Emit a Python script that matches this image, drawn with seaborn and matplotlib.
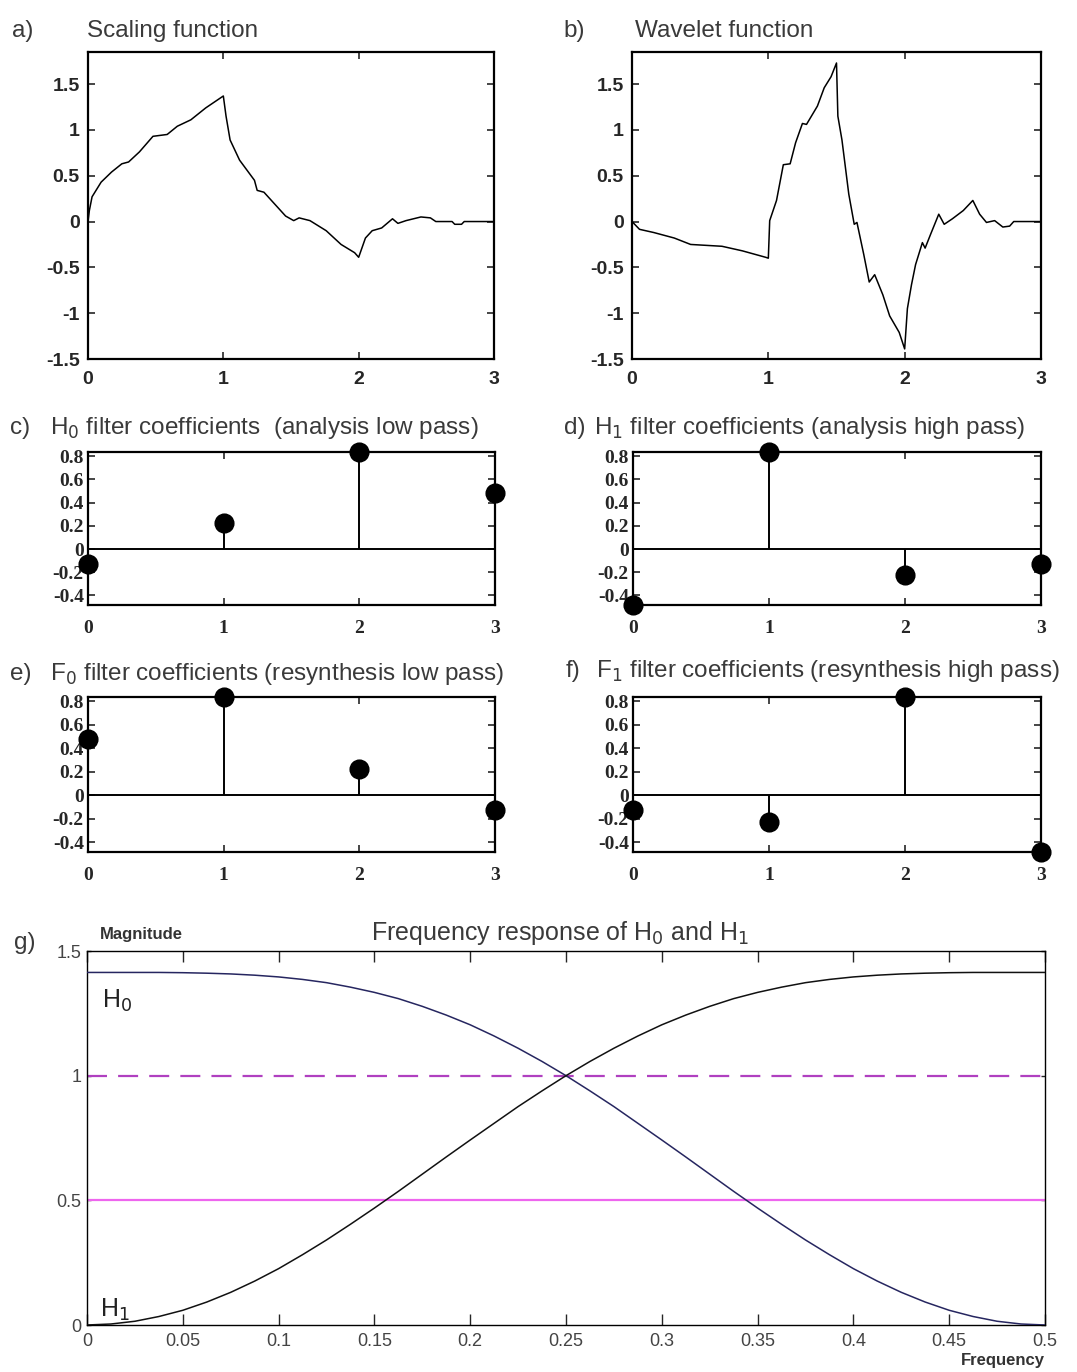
import numpy as np
import pandas as pd
import matplotlib
matplotlib.use("Agg")
import matplotlib.pyplot as plt
import seaborn as sns

# ---------------- data ----------------
scal_x = [0.0, 0.01, 0.03, 0.097, 0.174, 0.25, 0.30, 0.38, 0.48, 0.585, 0.66, 0.76, 0.87, 0.97, 1.0,
          1.02, 1.05, 1.12, 1.23, 1.25, 1.30, 1.38, 1.46, 1.52, 1.56, 1.64, 1.76, 1.87, 1.97, 2.0,
          2.05, 2.10, 2.17, 2.25, 2.29, 2.35, 2.46, 2.53, 2.57, 2.69, 2.71, 2.76, 2.78, 3.0]
scal_y = [0.0, 0.12, 0.27, 0.43, 0.54, 0.63, 0.65, 0.76, 0.93, 0.95, 1.04, 1.11, 1.24, 1.34, 1.37,
          1.15, 0.89, 0.67, 0.45, 0.34, 0.32, 0.19, 0.06, 0.01, 0.04, 0.01, -0.10, -0.25, -0.34, -0.39,
          -0.18, -0.10, -0.07, 0.03, -0.02, 0.01, 0.05, 0.04, 0.0, 0.0, -0.03, -0.03, 0.0, 0.0]

wave_x = [0.0, 0.055, 0.16, 0.31, 0.43, 0.66, 0.81, 0.98, 1.0, 1.01, 1.06, 1.11, 1.16, 1.20, 1.25,
          1.28, 1.36, 1.41, 1.46, 1.50, 1.51, 1.54, 1.59, 1.63, 1.65, 1.70, 1.74, 1.78, 1.84, 1.89,
          1.96, 2.0, 2.02, 2.05, 2.08, 2.13, 2.15, 2.19, 2.25, 2.29, 2.35, 2.43, 2.50, 2.55, 2.60,
          2.66, 2.72, 2.77, 2.80, 3.0]
wave_y = [0.0, -0.085, -0.12, -0.18, -0.25, -0.27, -0.32, -0.39, -0.40, 0.01, 0.23, 0.62, 0.63, 0.86, 1.07,
          1.06, 1.26, 1.46, 1.58, 1.73, 1.15, 0.89, 0.30, -0.03, -0.01, -0.36, -0.66, -0.58, -0.80, -1.03,
          -1.21, -1.39, -0.95, -0.69, -0.47, -0.23, -0.29, -0.14, 0.08, -0.03, 0.03, 0.12, 0.23, 0.08, -0.01,
          0.01, -0.06, -0.05, 0.0, 0.0]

taps = [0, 1, 2, 3]
h0_coef = [-0.129, 0.224, 0.837, 0.483]
h1_coef = [-0.483, 0.837, -0.224, -0.129]
f0_coef = [0.483, 0.837, 0.224, -0.129]
f1_coef = [-0.129, -0.224, 0.837, -0.483]

freq = [0.0, 0.0125, 0.025, 0.0375, 0.05, 0.0625, 0.075, 0.0875, 0.1, 0.1125, 0.125, 0.1375,
        0.15, 0.1625, 0.175, 0.1875, 0.2, 0.2125, 0.225, 0.2375, 0.25, 0.2625, 0.275, 0.2875,
        0.3, 0.3125, 0.325, 0.3375, 0.35, 0.3625, 0.375, 0.3875, 0.4, 0.4125, 0.425, 0.4375,
        0.45, 0.4625, 0.475, 0.4875, 0.5]
mag_h0 = [1.414, 1.414, 1.414, 1.414, 1.413, 1.411, 1.408, 1.403, 1.396, 1.386, 1.373, 1.355,
          1.334, 1.309, 1.278, 1.243, 1.204, 1.159, 1.110, 1.057, 1.000, 0.939, 0.876, 0.809,
          0.742, 0.674, 0.605, 0.536, 0.469, 0.404, 0.341, 0.282, 0.226, 0.176, 0.131, 0.092,
          0.059, 0.034, 0.015, 0.004, 0.000]
mag_h1 = [0.000, 0.004, 0.015, 0.034, 0.059, 0.092, 0.131, 0.176, 0.226, 0.282, 0.341, 0.404,
          0.469, 0.536, 0.605, 0.674, 0.742, 0.809, 0.876, 0.939, 1.000, 1.057, 1.110, 1.159,
          1.204, 1.243, 1.278, 1.309, 1.334, 1.355, 1.373, 1.386, 1.396, 1.403, 1.408, 1.411,
          1.413, 1.414, 1.414, 1.414, 1.414]
ref_levels = [1.0, 0.5]

# ---------------- figure ----------------
sns.set_style("ticks")
plt.rcParams['font.family'] = ['Liberation Sans', 'DejaVu Sans']
plt.rcParams['xtick.direction'] = 'in'
plt.rcParams['ytick.direction'] = 'in'

W, H = 1077, 1372
fig = plt.figure(figsize=(W / 100, H / 100), dpi=100)


def rect(l, t, r, b):
    return [l / W, 1 - b / H, (r - l) / W, (b - t) / H]


def px(x, y):
    return x / W, 1 - y / H


title_kw = dict(fontsize=17.5, color='#3a3a3a', va='center', ha='left')
tick_font_a = dict(family='Liberation Sans', weight='bold', size=14)
tick_font_c = dict(family='Liberation Serif', weight='bold', size=14)


def box_axes(ax, lw=1.6):
    for s in ax.spines.values():
        s.set_visible(True)
        s.set_linewidth(lw)
        s.set_color('black')
    ax.tick_params(top=True, right=True, length=5, width=1.2, pad=6)


# ---- a) scaling function ----
ax_a = fig.add_axes(rect(88, 52, 494, 359))
sns.lineplot(x=scal_x, y=scal_y, ax=ax_a, color='black', lw=1.1, sort=False, estimator=None)
ax_a.set_xlim(0, 3)
ax_a.set_ylim(-1.5, 1.85)
box_axes(ax_a)
ax_a.tick_params(axis='x', pad=9)
ax_a.set_xticks([0, 1, 2, 3])
ax_a.set_xticklabels(['0', '1', '2', '3'], fontdict=tick_font_a)
ax_a.set_yticks([-1.5, -1, -0.5, 0, 0.5, 1, 1.5])
ax_a.set_yticklabels(['-1.5', '-1', '-0.5', '0', '0.5', '1', '1.5'], fontdict=tick_font_a)
fig.text(*px(12, 31), 'a)', **title_kw)
fig.text(*px(87, 31), 'Scaling function', **title_kw)

# ---- b) wavelet function ----
ax_b = fig.add_axes(rect(632, 52, 1041, 359))
sns.lineplot(x=wave_x, y=wave_y, ax=ax_b, color='black', lw=1.1, sort=False, estimator=None)
ax_b.set_xlim(0, 3)
ax_b.set_ylim(-1.5, 1.85)
box_axes(ax_b)
ax_b.tick_params(axis='x', pad=9)
ax_b.set_xticks([0, 1, 2, 3])
ax_b.set_xticklabels(['0', '1', '2', '3'], fontdict=tick_font_a)
ax_b.set_yticks([-1.5, -1, -0.5, 0, 0.5, 1, 1.5])
ax_b.set_yticklabels(['-1.5', '-1', '-0.5', '0', '0.5', '1', '1.5'], fontdict=tick_font_a)
fig.text(*px(563, 31), 'b)', **title_kw)
fig.text(*px(635, 31), 'Wavelet function', **title_kw)


# ---- stem panels ----
def stem_panel(box, coefs, label, tag, title_xy, tag_xy):
    ax = fig.add_axes(rect(*box))
    ax.axhline(0, color='black', lw=1.4, zorder=1)
    ax.vlines(taps, 0, coefs, color='black', lw=1.4, zorder=2)
    sns.scatterplot(x=taps, y=coefs, ax=ax, color='black', s=180, edgecolor='black',
                    zorder=3, clip_on=False, legend=False)
    ax.set_xlim(0, 3)
    ax.set_ylim(-0.483, 0.837)
    box_axes(ax)
    ax.set_xticks([0, 1, 2, 3])
    ax.set_xticklabels(['0', '1', '2', '3'], fontdict=tick_font_c)
    ax.set_yticks([-0.4, -0.2, 0, 0.2, 0.4, 0.6, 0.8])
    ax.set_yticklabels(['-0.4', '-0.2', '0', '0.2', '0.4', '0.6', '0.8'], fontdict=tick_font_c)
    ax.tick_params(axis='y', pad=3)
    ax.tick_params(axis='x', pad=11)
    fig.text(*px(*tag_xy), tag, **title_kw)
    fig.text(*px(*title_xy), label, **title_kw)
    return ax


stem_panel((88, 452, 495, 605), h0_coef, r'H$_0$ filter coefficients  (analysis low pass)', 'c)',
           (50, 428), (10, 428))
stem_panel((633, 452, 1041, 605), h1_coef, r'H$_1$ filter coefficients (analysis high pass)', 'd)',
           (594, 428), (564, 428))
stem_panel((88, 697, 495, 852), f0_coef, r'F$_0$ filter coefficients (resynthesis low pass)', 'e)',
           (50, 674), (10, 674))
stem_panel((633, 697, 1041, 852), f1_coef, r'F$_1$ filter coefficients (resynthesis high pass)', 'f)',
           (596, 671), (566, 671))

# ---- g) frequency response ----
ax_g = fig.add_axes(rect(87, 951, 1045, 1325))
for lev, ls, col in zip(ref_levels, [(0, (9, 5)), '-'], ['#b040c0', '#ee66ee']):
    ax_g.axhline(lev, color=col, lw=1.6, ls=ls, zorder=1)
sns.lineplot(x=freq, y=mag_h0, ax=ax_g, color='#262660', lw=1.1, estimator=None, zorder=3)
sns.lineplot(x=freq, y=mag_h1, ax=ax_g, color='#111111', lw=1.1, estimator=None, zorder=3)
ax_g.set_xlim(0, 0.5)
ax_g.set_ylim(0, 1.5)
box_axes(ax_g, lw=1.0)
ax_g.tick_params(length=8, width=1.0, pad=6, labelsize=13, labelcolor='#444444')
ax_g.tick_params(axis='y', length=3, pad=4)
xt = [0, 0.05, 0.1, 0.15, 0.2, 0.25, 0.3, 0.35, 0.4, 0.45, 0.5]
ax_g.set_xticks(xt)
ax_g.set_xticklabels(['0', '0.05', '0.1', '0.15', '0.2', '0.25', '0.3', '0.35', '0.4', '0.45', '0.5'])
ax_g.set_yticks([0, 0.5, 1, 1.5])
ax_g.set_yticklabels(['0', '0.5', '1', '1.5'])
ax_g.text(0.008, 1.30, r'H$_0$', fontsize=18, color='#222222', ha='left', va='center')
ax_g.text(0.007, 0.06, r'H$_1$', fontsize=18, color='#222222', ha='left', va='center')
fig.text(*px(14, 943), 'g)', **title_kw)
fig.text(*px(100, 935), 'Magnitude', fontsize=12, weight='bold', color='#333333', va='center', ha='left')
fig.text(*px(560, 933), r'Frequency response of H$_0$ and H$_1$', fontsize=18, color='#3a3a3a',
         va='center', ha='center')
fig.text(*px(1045, 1361), 'Frequency', fontsize=12, weight='bold', color='#333333', va='center', ha='right')

fig.savefig('out.png', dpi=100, facecolor='white')
